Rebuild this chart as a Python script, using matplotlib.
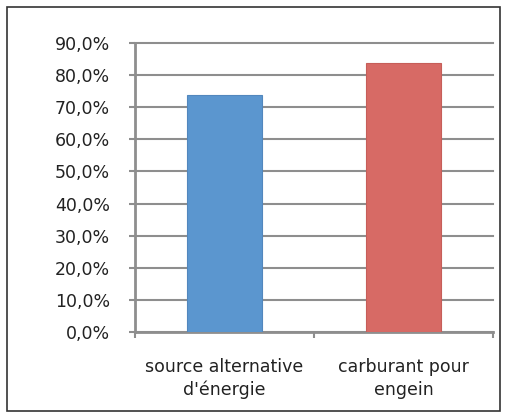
import matplotlib.pyplot as plt
from matplotlib.patches import Rectangle
from matplotlib.ticker import FuncFormatter

categories = ["source alternative\nd'énergie", "carburant pour\nengein"]
values = [73.7, 83.7]
bar_colors = ['#5b96cf', '#d76a65']
edge_colors = ['#5287bd', '#c65e59']
y_ticks = [0, 10, 20, 30, 40, 50, 60, 70, 80, 90]

grey = '#8e8e8e'

fig = plt.figure(figsize=(5.08, 4.18), dpi=100)
ax = fig.add_axes([0.2657, 0.2057, 0.9705 - 0.2657, 0.8971 - 0.2057])

x = range(len(categories))
ax.bar(x, values, width=0.42, color=bar_colors, edgecolor=edge_colors,
       linewidth=0.8, zorder=3)

ax.set_xlim(-0.5, len(categories) - 0.5)
ax.set_ylim(0, 90)
ax.set_yticks(y_ticks)
ax.yaxis.set_major_formatter(FuncFormatter(lambda v, p: f"{v:.1f}".replace('.', ',') + '%'))
ax.yaxis.grid(True, color=grey, linewidth=1.5, zorder=0)
for gl in ax.get_ygridlines():
    gl.set_clip_on(False)

# category labels centred under bars, ticks on category boundaries
ax.set_xticks(list(x))
ax.set_xticklabels(categories, linespacing=1.3)
ax.set_xticks([-0.5, 0.5, 1.5], minor=True)
ax.tick_params(axis='x', which='major', length=0, pad=19)
ax.tick_params(axis='x', which='minor', length=4, width=1.5, color=grey, direction='out')
ax.tick_params(axis='y', length=4, width=1.5, color=grey, pad=14)
ax.tick_params(labelsize=12.5, labelcolor='#222222')

for side in ['top', 'right']:
    ax.spines[side].set_visible(False)
for side in ['left', 'bottom']:
    ax.spines[side].set_color(grey)
    ax.spines[side].set_linewidth(2)

# outer chart border
fig.patches.append(Rectangle((7 / 508, 7 / 418), 493 / 508, 404 / 418,
                             transform=fig.transFigure, fill=False,
                             edgecolor='#333333', linewidth=1.2))

fig.savefig('out.png', dpi=100)
